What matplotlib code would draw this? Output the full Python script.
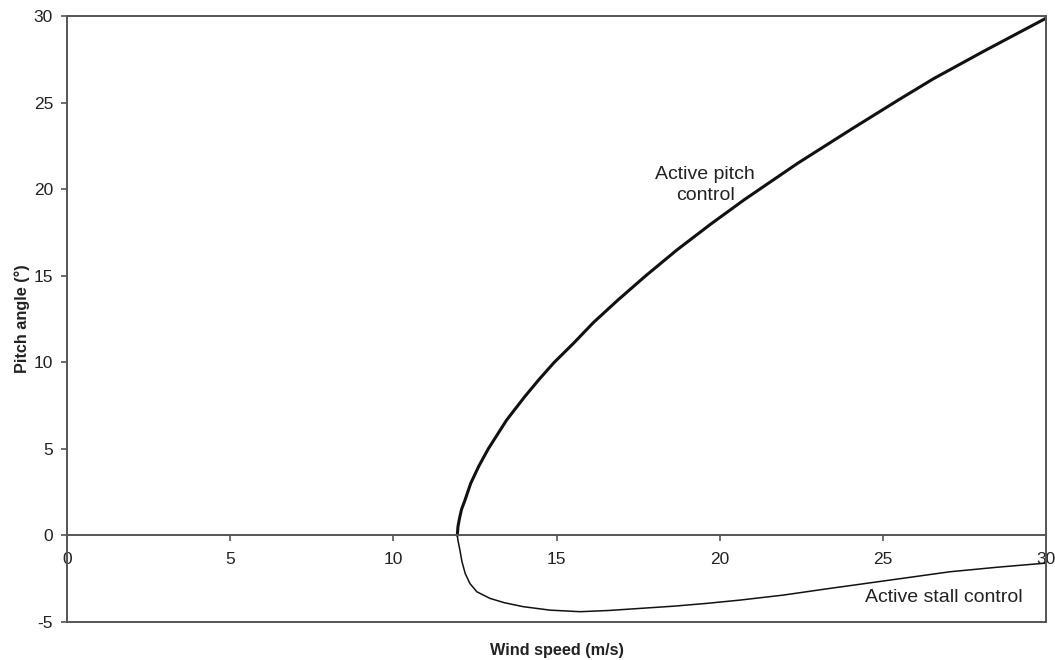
import matplotlib
matplotlib.use("Agg")
import matplotlib.pyplot as plt

plt.rcParams['font.family'] = ['Liberation Sans', 'DejaVu Sans']
plt.rcParams['axes.unicode_minus'] = False

# Active pitch control curve (wind speed m/s, pitch angle deg)
pitch_wind = [11.96, 11.98, 12.03, 12.09, 12.19, 12.37, 12.62, 12.91, 13.47, 14.02, 14.46,
              14.93, 15.52, 16.13, 16.88, 17.73, 18.69, 19.73, 20.75, 22.38, 24.05, 25.5,
              26.55, 28.1, 30.0]
pitch_angle = [0.0, 0.5, 1.0, 1.5, 2.0, 3.0, 4.0, 5.0, 6.66, 8.0, 9.0,
               10.0, 11.1, 12.3, 13.6, 15.0, 16.5, 18.0, 19.4, 21.5, 23.5, 25.2,
               26.4, 28.0, 29.9]

# Active stall control curve
stall_wind = [11.96, 11.98, 12.04, 12.1, 12.2, 12.35, 12.56, 12.96, 13.4, 13.98, 14.8,
              15.72, 16.6, 17.56, 18.6, 19.6, 20.62, 21.95, 23.2, 24.5, 25.8, 27.06,
              28.5, 30.0]
stall_angle = [0.0, -0.3, -0.86, -1.5, -2.2, -2.8, -3.27, -3.65, -3.9, -4.13, -4.33,
               -4.42, -4.35, -4.23, -4.1, -3.94, -3.75, -3.46, -3.12, -2.78, -2.44, -2.11,
               -1.85, -1.61]

x_ticks = [0, 5, 10, 15, 20, 25, 30]
y_ticks = [-5, 0, 5, 10, 15, 20, 25, 30]

fig = plt.figure(figsize=(10.55, 6.6), dpi=100)
ax = fig.add_axes([0.0635, 0.058, 0.928, 0.917])

spine_col = '#555555'
ax.plot(pitch_wind, pitch_angle, color='#111111', lw=2.2,
        solid_capstyle='round', solid_joinstyle='round')
ax.plot(stall_wind, stall_angle, color='#111111', lw=1.1, solid_joinstyle='round')

ax.set_xlim(0, 30)
ax.set_ylim(-5, 30)
ax.set_xticks(x_ticks)
ax.set_yticks(y_ticks)

ax.spines['bottom'].set_position(('data', 0))
for s in ax.spines.values():
    s.set_color(spine_col)
    s.set_linewidth(1.4)
# bottom frame line of the box
ax.plot([0, 1], [0, 0], transform=ax.transAxes, color=spine_col, lw=1.4, clip_on=False)

ax.tick_params(axis='x', direction='out', length=4, width=1.2, color=spine_col,
               labelsize=12.5, pad=8, labelcolor='#222222')
ax.tick_params(axis='y', direction='out', length=4, width=1.2, color=spine_col,
               labelsize=12.5, pad=6, labelcolor='#222222')

ax.set_xlabel('Wind speed (m/s)', fontsize=11.7, fontweight='bold', color='#222222',
              va='center')
ax.xaxis.set_label_coords(0.5, -0.047)
ax.set_ylabel('Pitch angle (°)', fontsize=11.7, fontweight='bold', color='#222222',
              va='center')
ax.yaxis.set_label_coords(-0.046, 0.5)

ax.text(19.55, 20.25, 'Active pitch\ncontrol', ha='center', va='center', fontsize=14,
        color='#222222', linespacing=1.3)
ax.text(26.88, -3.6, 'Active stall control', ha='center', va='center', fontsize=14,
        color='#222222')

fig.savefig('out.png', dpi=100)
